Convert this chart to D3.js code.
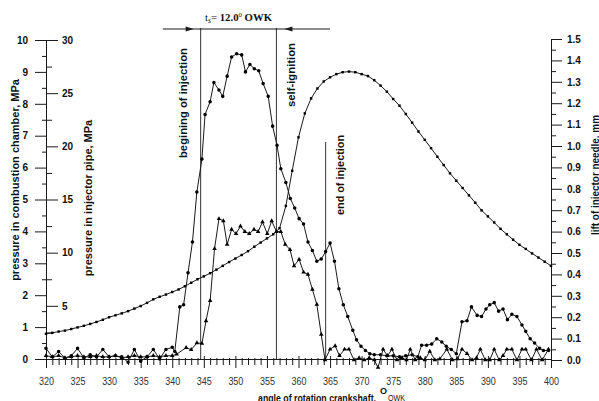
<!DOCTYPE html>
<html>
<head>
<meta charset="utf-8">
<script src="https://cdn.jsdelivr.net/npm/d3@7/dist/d3.min.js"></script>
<style>
    body { margin: 0; background: #fff; }
    svg { display: block; font-family: "Liberation Sans", Arial, sans-serif; }
</style>
</head>
<body>
<script>
// dimensions
let width = 599;
let height = 401;

const line_color = "#1a1a1a"
const plot = { left: 46, right: 551, top: 40, bottom: 359 };

// pressure in combustion chamber, MPa (left axis)
const combAngle = [320, 321, 322, 323, 324, 325, 326, 327, 328, 329, 330, 331, 332, 333, 334, 335, 336, 337, 338, 339,
    340, 341, 342, 343, 344, 345, 346, 347, 348, 349, 350, 351, 352, 353, 354, 355, 356, 357, 358, 359,
    360, 361, 362, 363, 364, 365, 366, 367, 368, 369, 370, 371, 372, 373, 374, 375, 376, 377, 378, 379,
    380, 381, 382, 383, 384, 385, 386, 387, 388, 389, 390, 391, 392, 393, 394, 395, 396, 397, 398, 399, 400];
const combValue = [0.79, 0.82, 0.86, 0.89, 0.94, 0.99, 1.04, 1.10, 1.16, 1.23, 1.31, 1.37, 1.43, 1.50, 1.58, 1.66, 1.76, 1.87, 1.95, 2.02,
    2.10, 2.18, 2.28, 2.39, 2.50, 2.59, 2.69, 2.80, 2.92, 3.04, 3.15, 3.26, 3.38, 3.52, 3.65, 3.78, 3.91, 4.10, 4.80, 5.90,
    6.95, 7.70, 8.17, 8.48, 8.70, 8.83, 8.93, 8.99, 9.01, 8.99, 8.93, 8.87, 8.74, 8.57, 8.38, 8.15, 7.94, 7.68, 7.41, 7.13,
    6.87, 6.61, 6.34, 6.08, 5.82, 5.59, 5.36, 5.13, 4.90, 4.66, 4.47, 4.28, 4.08, 3.91, 3.74, 3.58, 3.45, 3.31, 3.18, 3.05, 2.92];

// pressure in injector pipe, MPa (second left axis)
const pipeAngle = [320, 321, 322, 323, 324, 325, 326, 327, 328, 329, 330, 331, 332, 333, 334, 335, 336, 337, 338, 339, 340,
    340.4, 341.2, 341.8, 342.5, 343.2, 343.9, 344.7, 345.2, 346.0, 346.6, 347.4, 348.0, 348.7, 349.4, 350.2, 351.0, 351.6,
    352.3, 353.0, 353.7, 354.4, 355.2, 355.9, 356.6, 357.2, 358.0, 358.7, 359.4, 360.1, 360.8, 361.5, 362.2, 362.9, 363.6,
    364.3, 365.0, 365.7, 366.4, 367.1, 367.8, 368.6, 369.2, 369.9, 370.6, 371.3, 372.0,
    373, 374, 375, 376, 377, 378, 378.9, 379.5, 380.3, 381.1, 381.9, 382.7, 383.4, 384.2, 385.0,
    385.9, 386.7, 387.4, 388.3, 389.0, 389.7, 390.3, 391.0, 391.7, 392.4, 393.1, 393.8, 394.6, 395.4, 396.0, 396.7,
    397.4, 398.2, 398.8, 399.6];
const pipeValue = [1.0, 0.2, 0.7, 0.1, 0.3, 1.0, 0.1, 0.4, 0.2, 0.9, 0.2, 0.3, 0.2, -0.3, 0.9, -0.2, 0.2, 0.9, 0.0, 0.9, 1.1,
    0.7, 4.9, 5.1, 8.1, 11.0, 15.7, 18.8, 23.0, 24.2, 26.0, 25.3, 24.7, 26.6, 28.4, 28.7, 28.6, 27.0,
    27.7, 27.3, 27.1, 25.9, 24.7, 21.9, 20.1, 17.9, 16.6, 15.1, 14.2, 13.2, 12.7, 11.0, 10.2, 9.2, 9.4,
    10.1, 10.9, 9.2, 6.6, 5.1, 4.0, 2.7, 1.8, 1.2, 0.8, 0.5, 0.4,
    0.4, 0.3, 0.3, 0.2, 0.3, 0.4, 0.2, 1.3, 1.3, 1.4, 1.9, 1.6, 1.2, 0.9, 0.5,
    3.5, 3.6, 4.9, 4.1, 4.0, 4.7, 5.1, 5.3, 4.5, 4.7, 3.7, 4.2, 4.0, 3.2, 2.6, 1.9,
    1.5, 1.0, 0.8, 0.8];

// lift of injector needle, mm (right axis)
const liftAngle = [320, 321, 322, 323, 324, 325, 326, 327, 328, 329, 330, 331, 332, 333, 334, 335, 336, 337, 338, 339, 340,
    340.7, 342.2, 343.0, 343.9, 344.7, 345.35, 346.0, 346.7, 347.4, 348.1, 348.7, 349.4, 350.1, 350.8, 351.5, 352.2,
    352.95, 353.6, 354.3, 355.05, 355.75, 356.5, 357.2, 357.9, 358.65, 359.3, 360.1, 360.8, 361.5, 362.2, 362.9, 363.6, 364.2,
    365.0, 365.8, 366.5, 367.3, 368.0, 368.8, 369.6, 370.4, 371.2, 372.0, 372.6, 373.4, 374.1, 374.8, 375.6, 376.4,
    377.1, 377.7, 378.5, 379.3, 380.0, 380.8, 381.6, 382.4, 383.5, 384.4, 385.2, 385.9, 386.7, 387.5, 388.2, 388.8,
    389.6, 390.3, 391.0, 391.8, 392.4, 393.0, 393.8, 394.6, 395.4, 396.0, 396.9, 397.7, 398.6, 399.6];
const liftValue = [0.02, 0.015, 0.02, 0.01, 0.015, 0.02, 0.015, 0.015, 0.02, 0.015, 0.015, 0.02, 0.01, 0.015, 0.02, 0.015, 0.015, 0.02, 0.015, 0.02, 0.02,
    0.027, 0.058, 0.048, 0.08, 0.077, 0.183, 0.277, 0.52, 0.66, 0.65, 0.54, 0.61, 0.59, 0.625, 0.60, 0.59,
    0.61, 0.60, 0.645, 0.59, 0.65, 0.60, 0.60, 0.54, 0.516, 0.44, 0.47, 0.41, 0.40, 0.33, 0.26, 0.12, 0.0,
    0.05, 0.066, 0.02, 0.05, 0.05, 0.0, 0.01, 0.0, 0.01, 0.0, -0.035, 0.05, 0.02, 0.05, 0.0, 0.01,
    0.0, 0.05, 0.0, 0.01, 0.0, 0.04, 0.0, 0.005, 0.05, 0.0, 0.005, 0.05, 0.03, 0.0, 0.01, 0.05,
    0.0, 0.0, 0.05, 0.0, 0.02, 0.05, 0.05, 0.0, 0.05, 0.05, 0.0, 0.05, 0.0, 0.05];

// tick values
const angleTicks = [320, 325, 330, 335, 340, 345, 350, 355, 360, 365, 370, 375, 380, 385, 390, 395, 400];
const combTicks = [0, 1, 2, 3, 4, 5, 6, 7, 8, 9, 10];
const pipeTicks = [5, 10, 15, 20, 25, 30];
const liftTicks = [0, 0.1, 0.2, 0.3, 0.4, 0.5, 0.6, 0.7, 0.8, 0.9, 1.0, 1.1, 1.2, 1.3, 1.4, 1.5];

// event angles: begining of injection, self-ignition, end of injection
const eventAngle = [344.5, 356.5, 364.3];

// create an svg to draw in
let svg = d3.select("body")
    .append("svg")
    .attr("width", width)
    .attr("height", height);

let x = d3.scaleLinear().domain([320, 400]).range([plot.left, plot.right]);
let yComb = d3.scaleLinear().domain([0, 10]).range([plot.bottom, plot.top]);
let yPipe = d3.scaleLinear().domain([0, 30]).range([plot.bottom, plot.top]);
let yLift = d3.scaleLinear().domain([0, 1.5]).range([plot.bottom + 1, plot.top - 1]);

// common look for all axes
function styleAxis(g, bold) {
    g.attr("font-family", null).attr("font-size", null);
    g.select(".domain").attr("stroke", line_color);
    g.selectAll(".tick line").attr("stroke", line_color);
    g.selectAll(".tick text")
        .attr("fill", bold ? "#111" : "#333")
        .style("font-size", bold ? "10px" : "11px")
        .style("font-weight", bold ? "bold" : "normal");
}

// minor ticks
let halfSteps = [0.5, 1.5, 2.5, 3.5, 4.5, 5.5, 6.5, 7.5, 8.5, 9.5];
let pipeMinor = [2.5, 7.5, 12.5, 17.5, 22.5, 27.5];
let liftMinor = d3.range(0, 15).map(function (i) { return i / 10 + 0.05; });
let angleMinor = d3.range(320, 401).filter(function (d) { return d % 5 !== 0; });

// left axis: combustion chamber
svg.append("g")
    .attr("transform", "translate(" + plot.left + ",0)")
    .call(d3.axisLeft(yComb).tickValues(combTicks).tickSize(11).tickSizeOuter(0).tickPadding(7))
    .call(styleAxis, true);
svg.append("g")
    .attr("transform", "translate(" + plot.left + ",0)")
    .call(d3.axisLeft(yComb).tickValues(halfSteps).tickSize(4).tickFormat(""))
    .call(function (g) { g.select(".domain").remove(); })
    .call(styleAxis, true);

// second left axis: injector pipe
svg.append("g")
    .attr("transform", "translate(" + plot.left + ",0)")
    .call(d3.axisRight(yPipe).tickValues(pipeTicks).tickSize(12).tickSizeOuter(0).tickPadding(4))
    .call(styleAxis, true);
svg.append("g")
    .attr("transform", "translate(" + plot.left + ",0)")
    .call(d3.axisRight(yPipe).tickValues(pipeMinor).tickSize(6).tickFormat(""))
    .call(function (g) { g.select(".domain").remove(); })
    .call(styleAxis, true);

// right axis: needle lift
svg.append("g")
    .attr("transform", "translate(" + plot.right + ",0)")
    .call(d3.axisRight(yLift).tickValues(liftTicks).tickSize(11).tickSizeOuter(0).tickPadding(5).tickFormat(d3.format(".1f")))
    .call(styleAxis, true);
svg.append("g")
    .attr("transform", "translate(" + plot.right + ",0)")
    .call(d3.axisRight(yLift).tickValues(liftMinor).tickSize(5).tickFormat(""))
    .call(function (g) { g.select(".domain").remove(); })
    .call(styleAxis, true);

// bottom axis: crank angle, ticks cross the axis line
svg.append("g")
    .attr("transform", "translate(0," + plot.bottom + ")")
    .call(d3.axisBottom(x).tickValues(angleMinor).tickSize(6).tickFormat(""))
    .call(styleAxis, false)
    .call(function (g) { g.selectAll(".tick line").attr("y1", -1); });
svg.append("g")
    .attr("transform", "translate(0," + plot.bottom + ")")
    .call(d3.axisBottom(x).tickValues(angleTicks).tickSize(9).tickSizeOuter(0).tickPadding(9))
    .call(styleAxis, false)
    .call(function (g) {
        g.selectAll(".tick line").attr("y1", -3);
        g.selectAll(".tick text").attr("textLength", 15).attr("lengthAdjust", "spacingAndGlyphs");
    });

// rotated label helper
function vText(tx, ty, txt, size, len) {
    let t = svg.append("text")
        .attr("transform", "translate(" + tx + "," + ty + ") rotate(-90)")
        .attr("text-anchor", "middle")
        .style("font-size", size + "px")
        .style("font-weight", "bold")
        .attr("fill", "#111")
        .text(txt);
    if (len) {
        t.attr("textLength", len).attr("lengthAdjust", "spacingAndGlyphs");
    }
    return t;
}

// axis titles
vText(19, 180, "pressure in combustion chamber, MPa", 11);
vText(92, 198, "pressure in injector pipe, MPa", 11);
vText(599, 175, "lift of injector needle, mm", 10, 120);

// bottom title, main part and the raised degree mark with its unit
svg.append("text")
    .attr("x", 258)
    .attr("y", 402)
    .attr("fill", "#111")
    .style("font-size", "11px")
    .style("font-weight", "bold")
    .attr("textLength", 118)
    .attr("lengthAdjust", "spacingAndGlyphs")
    .text("angle of rotation crankshaft,");
svg.append("text")
    .attr("x", 380)
    .attr("y", 394)
    .attr("fill", "#111")
    .style("font-size", "9px")
    .style("font-weight", "bold")
    .text("O");
svg.append("text")
    .attr("x", 388)
    .attr("y", 401)
    .attr("fill", "#111")
    .style("font-size", "9px")
    .attr("textLength", 17)
    .attr("lengthAdjust", "spacingAndGlyphs")
    .text("OWK");

// event markers
svg.selectAll(".event")
    .data(eventAngle)
    .enter()
    .append("line")
    .attr("class", "event")
    .attr("x1", function (d) { return x(d); })
    .attr("x2", function (d) { return x(d); })
    .attr("y1", function (d, i) { return i < 2 ? 28 : 142; })
    .attr("y2", plot.bottom)
    .attr("stroke", "#333")
    .attr("stroke-width", 1);

vText(187, 103, "begining of injection", 10, 110);
vText(295, 75, "self-ignition", 10, 64);
vText(344, 175, "end of injection", 10, 80);

// injection timing dimension on top
svg.append("line")
    .attr("x1", x(338.5)).attr("x2", x(365))
    .attr("y1", 29).attr("y2", 29)
    .attr("stroke", line_color);
let aL = x(eventAngle[0]) - 7;
let aR = x(eventAngle[1]) + 8;
svg.append("path")
    .attr("d", "M" + (aL - 8) + ",26.5L" + aL + ",29L" + (aL - 8) + ",31.5Z")
    .attr("fill", line_color);
svg.append("path")
    .attr("d", "M" + (aR + 8) + ",26.5L" + aR + ",29L" + (aR + 8) + ",31.5Z")
    .attr("fill", line_color);

let ts = svg.append("text")
    .attr("x", 205)
    .attr("y", 21)
    .attr("fill", "#111")
    .style("font-family", "'Liberation Serif', 'Times New Roman', serif")
    .style("font-size", "11px")
    .attr("textLength", 67)
    .attr("lengthAdjust", "spacingAndGlyphs");
ts.append("tspan").text("t");
ts.append("tspan").attr("dy", 2).style("font-size", "8px").style("font-style", "italic").text("s");
ts.append("tspan").attr("dy", -2).text("= ");
ts.append("tspan").style("font-weight", "bold").text("12.0");
ts.append("tspan").attr("dy", -4).style("font-size", "7px").text("0");
ts.append("tspan").attr("dy", 4).style("font-weight", "bold").text(" OWK");

// draw one measured curve with its markers
function drawSeries(angles, values, yScale, symbol, size) {
    let pts = d3.zip(angles, values);
    let line = d3.line()
        .x(function (d) { return x(d[0]); })
        .y(function (d) { return yScale(d[1]); });

    svg.append("path")
        .datum(pts)
        .attr("d", line)
        .attr("fill", "none")
        .attr("stroke", line_color)
        .attr("stroke-width", 1);

    svg.append("g")
        .selectAll("path")
        .data(pts)
        .enter()
        .append("path")
        .attr("d", d3.symbol().type(symbol).size(size))
        .attr("transform", function (d) {
            return "translate(" + x(d[0]) + "," + yScale(d[1]) + ")";
        })
        .attr("fill", "#000");
}

drawSeries(combAngle, combValue, yComb, d3.symbolSquare, 6);
drawSeries(pipeAngle, pipeValue, yPipe, d3.symbolCircle, 10);
drawSeries(liftAngle, liftValue, yLift, d3.symbolTriangle, 9);
</script>
</body>
</html>
